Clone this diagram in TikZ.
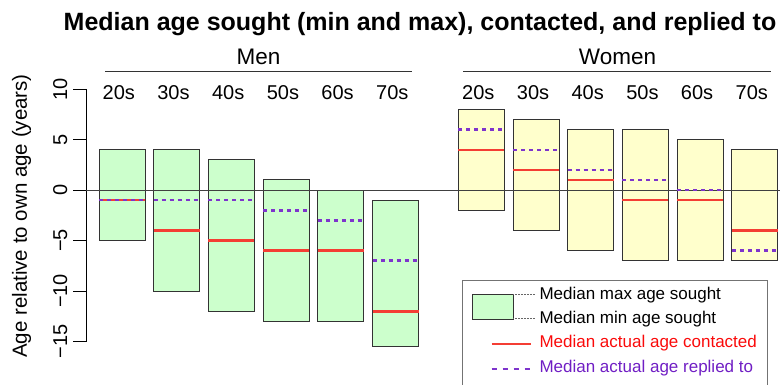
\documentclass[tikz,border=0pt]{standalone}
\usepackage{fontspec}
\setmainfont{Liberation Sans}
\definecolor{ageGreen}{RGB}{204,255,204}
\definecolor{ageYellow}{RGB}{255,255,204}
\definecolor{ageRed}{RGB}{244,62,52}
\definecolor{agePurple}{RGB}{126,52,204}
\definecolor{ageTextRed}{RGB}{250,10,10}
\definecolor{ageTextPurple}{RGB}{112,30,196}
\usetikzlibrary{positioning}

\begin{document}
\begin{tikzpicture}[x=1pt, y=-1pt,
    agebox/.style={draw=black!80, line width=0.9pt},
    contacted/.style={draw=ageRed, line width=2.6pt},
    replied/.style={draw=agePurple, line width=2.6pt, dash pattern=on 4pt off 4pt},
    toplabel/.style={anchor=base, font=\fontsize{20}{24}\selectfont},
    sexlabel/.style={anchor=base, font=\fontsize{22.5}{27}\selectfont},
    legtext/.style={anchor=west, font=\fontsize{17}{20}\selectfont}
  ]
  \useasboundingbox (0,0) rectangle (780,384);

  % title and panel headers
  \node[anchor=base, font=\bfseries\fontsize{25}{30}\selectfont] (title) at (420,30)
    {Median age sought (min and max), contacted, and replied to};
  \node[sexlabel] (men)   at (258.5,64.3) {Men};
  \node[sexlabel] (women) at (617.5,64.3) {Women};
  \draw[line width=0.8pt, black!80] (105,71) -- (412,71);
  \draw[line width=0.8pt, black!80] (463,71) -- (771,71);

  \foreach \i/\lab in {0/20s, 1/30s, 2/40s, 3/50s, 4/60s, 5/70s} {
    \node[toplabel] (m\i) at (118.8+54.7*\i, 99.3) {\lab};
    \node[toplabel] (w\i) at (478.3+54.7*\i, 99.3) {\lab};
  }

  % y axis label
  \node[rotate=90, anchor=base, font=\fontsize{20.5}{24}\selectfont] (ylab) at (27,216)
    {Age relative to own age (years)};

  % data part: x in px, y in years
  \begin{scope}[shift={(0,190)}, y=10.1pt]
    \draw[line width=0.8pt] (86,10) -- (86,-15);
    \foreach \v/\lab [count=\k] in {10/10, 5/5, 0/0, -5/−5, -10/−10, -15/−15} {
      \draw[line width=0.8pt] (73,\v) -- (86,\v);
      \node[rotate=90, anchor=base, font=\fontsize{20}{24}\selectfont] (ytick\k) at (67,\v) {\lab};
    }

    % men: max, min, contacted, replied
    \foreach \i/\hi/\lo in {0/4/-5, 1/4/-10, 2/3/-12, 3/1/-13, 4/0/-13, 5/-1/-15.5}
      \draw[agebox, fill=ageGreen] (99+54.7*\i,\hi) rectangle (145+54.7*\i,\lo);
    % women
    \foreach \i/\hi/\lo in {0/8/-2, 1/7/-4, 2/6/-6, 3/6/-7, 4/5/-7, 5/4/-7}
      \draw[agebox, fill=ageYellow] (458.3+54.7*\i,\hi) rectangle (504.3+54.7*\i,\lo);

    \draw[line width=0.8pt, black!75] (86,0) -- (780,0);

    \foreach \i/\ct/\rp in {0/-1/-1, 1/-4/-1, 2/-5/-1, 3/-6/-2, 4/-6/-3, 5/-12/-7} {
      \draw[contacted] (99+54.7*\i,\ct) -- (145+54.7*\i,\ct);
      \draw[replied]   (99+54.7*\i,\rp) -- (145+54.7*\i,\rp);
    }
    \foreach \i/\ct/\rp/\cw/\rw in {0/4/6/1.8pt/2.6pt, 1/2/4/2.6pt/1.8pt, 2/1/2/2.6pt/2.6pt,
                                    3/-1/1/2.6pt/2.6pt, 4/-1/0/2.6pt/2.6pt, 5/-4/-6/2.6pt/2.6pt} {
      \draw[draw=ageRed, line width=\cw] (458.3+54.7*\i,\ct) -- (504.3+54.7*\i,\ct);
      \draw[draw=agePurple, line width=\rw, dash pattern=on 4pt off 4pt]
        (458.3+54.7*\i,\rp) -- (504.3+54.7*\i,\rp);
    }
  \end{scope}

  % legend (runs off the bottom edge)
  \draw[line width=0.9pt, black!55] (462.7,392) |- (767.3,280) -- (767.3,392);
  \draw[agebox, fill=ageGreen] (472.3,294.3) rectangle (513.3,319);
  \draw[black!60, densely dotted, line width=0.5pt] (513.3,294.3) -- (535,294.3);
  \draw[black!60, densely dotted, line width=0.5pt] (513.3,318.5) -- (535,318.5);
  \draw[contacted, line width=2pt] (491.7,344) -- (530.7,344);
  \draw[replied, line width=2pt, dash pattern=on 5pt off 6pt] (491.7,368.7) -- (530.7,368.7);
  \node[legtext] (lmax) at (536,295.5) {Median max age sought};
  \node[legtext] (lmin) at (536,319) {Median min age sought};
  \node[legtext, text=ageTextRed] (lcon) at (536,343) {Median actual age contacted};
  \node[legtext, text=ageTextPurple] (lrep) at (536,368) {Median actual age replied to};
\end{tikzpicture}
\end{document}
